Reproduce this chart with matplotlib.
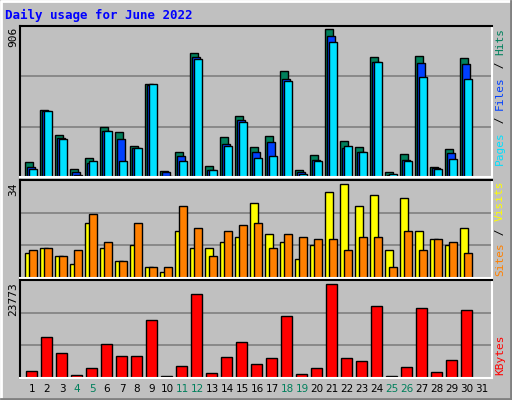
import matplotlib
matplotlib.use("Agg")
import matplotlib.pyplot as plt
from matplotlib.patches import Rectangle
from matplotlib.lines import Line2D

days = list(range(1, 32))
hits  = [92,413,259,49,117,308,277,191,567,37,154,758,68,247,376,185,253,647,43,136,906,222,185,734,31,142,740,62,173,728,0]
files = [62,403,240,31,86,284,234,179,561,31,129,734,43,203,351,154,216,598,31,105,863,179,154,703,12,105,697,55,148,690,0]
pages = [49,407,234,12,99,284,99,179,567,6,99,721,43,191,339,117,129,586,18,99,826,191,154,703,18,99,610,49,111,598,0]
visits = [9,11,8,5,20,11,6,12,4,2,17,11,11,13,15,27,16,13,7,12,31,34,26,30,10,29,17,14,12,18,0]
sites  = [10,11,8,10,23,13,6,20,4,4,26,18,8,17,19,20,11,16,15,14,14,10,15,15,4,17,10,14,13,9,0]
kbytes = [1829,10452,6271,784,2613,8623,5487,5487,14633,523,3136,21165,1307,5226,9146,3658,4965,15678,1045,2613,23773,4965,4181,18291,523,2874,17768,1568,4442,17246,0]
weekends = [4,5,11,12,18,19,25,26]
title = "Daily usage for June 2022"

W, H = 512, 400
fig = plt.figure(figsize=(5.12, 4.0), dpi=100, facecolor="#C0C0C0")
MONO = "DejaVu Sans Mono"

def fx(px): return px / W
def fy(py): return 1 - py / H

# outer bevel
fig.add_artist(Line2D([fx(1), fx(1), fx(W-1)], [fy(H-1), fy(1), fy(1)], color="white", lw=2, transform=fig.transFigure))
fig.add_artist(Line2D([fx(1), fx(W-1), fx(W-1)], [fy(H-1), fy(H-1), fy(1)], color="#808080", lw=2, transform=fig.transFigure))

def panel(y0, y1):
    ax = fig.add_axes([fx(20), fy(y1), fx(492) - fx(20), fy(y0) - fy(y1)])
    ax.set_facecolor("#C0C0C0")
    ax.set_xlim(0, 472 / 15)
    ax.set_xticks([]); ax.set_yticks([])
    for s in ("top", "left"):
        ax.spines[s].set_color("black")
    for s in ("bottom", "right"):
        ax.spines[s].set_color("white")
    for sp in ax.spines.values():
        sp.set_linewidth(1.5)
    for f in (1/3, 2/3):
        ax.axhline(f * 0, color="none")
    return ax

def grid(ax, top):
    for f in (1/3, 2/3):
        ax.axhline(top * f, color="#808080", lw=1.2, zorder=0)

u = 1 / 15
# top panel
ax1 = panel(26, 177)
top1 = max(hits) * 150 / 147
ax1.set_ylim(0, top1); grid(ax1, top1)
for i, d in enumerate(days):
    l = d - 1 + 5 * u
    ax1.bar(l, hits[i], width=8*u, align="edge", color="#00805C", edgecolor="black", lw=1)
    ax1.bar(l + 2*u, files[i], width=8*u, align="edge", color="#0040FF", edgecolor="black", lw=1)
    ax1.bar(l + 4*u, pages[i], width=8*u, align="edge", color="#00E0FF", edgecolor="black", lw=1)

# middle panel
ax2 = panel(180, 278)
top2 = max(visits) * 97 / 93
ax2.set_ylim(0, top2); grid(ax2, top2)
for i, d in enumerate(days):
    l = d - 1 + 5 * u
    ax2.bar(l, visits[i], width=8*u, align="edge", color="#FFFF00", edgecolor="black", lw=1)
    ax2.bar(l + 4*u, sites[i], width=8*u, align="edge", color="#FF8000", edgecolor="black", lw=1)

# bottom panel
ax3 = panel(280, 378)
top3 = max(kbytes) * 96 / 92
ax3.set_ylim(0, top3); grid(ax3, top3)
for i, d in enumerate(days):
    l = d - 1 + 6 * u
    ax3.bar(l, kbytes[i], width=11*u, align="edge", color="#FF0000", edgecolor="black", lw=1)

# x labels
for d in days:
    c = "#00805C" if d in weekends else "black"
    fig.text(fx(20 + 5 + 15*(d-1) + 7), fy(389), str(d), color=c, fontsize=7.5,
             ha="center", va="center", family="DejaVu Sans")

# title
fig.text(fx(5), fy(15), title, color="#0000FF", fontsize=9, fontweight="bold",
         family=MONO, ha="left", va="center")

# max labels
fig.text(fx(13), fy(27), str(max(hits)), rotation=90, fontsize=8, family=MONO, ha="center", va="top")
fig.text(fx(13), fy(182), str(max(visits)), rotation=90, fontsize=8, family=MONO, ha="center", va="top")
fig.text(fx(13), fy(282), str(max(kbytes)), rotation=90, fontsize=8, family=MONO, ha="center", va="top")

def vlabel(parts, ybottom):
    cw = 6.9
    y = ybottom
    for txt, col in parts:
        fig.text(fx(500), fy(y), txt, rotation=90, rotation_mode="anchor", color=col,
                 fontsize=8, family=MONO, ha="left", va="center")
        y -= cw * len(txt)

vlabel([("Pages", "#00E0FF"), (" / ", "black"), ("Files", "#0040FF"), (" / ", "black"), ("Hits", "#00805C")], 165)
vlabel([("Sites", "#FF8000"), (" / ", "black"), ("Visits", "#FFFF00")], 276)
vlabel([("KBytes", "#FF0000")], 375)

fig.savefig("out.png", dpi=100, facecolor=fig.get_facecolor())
